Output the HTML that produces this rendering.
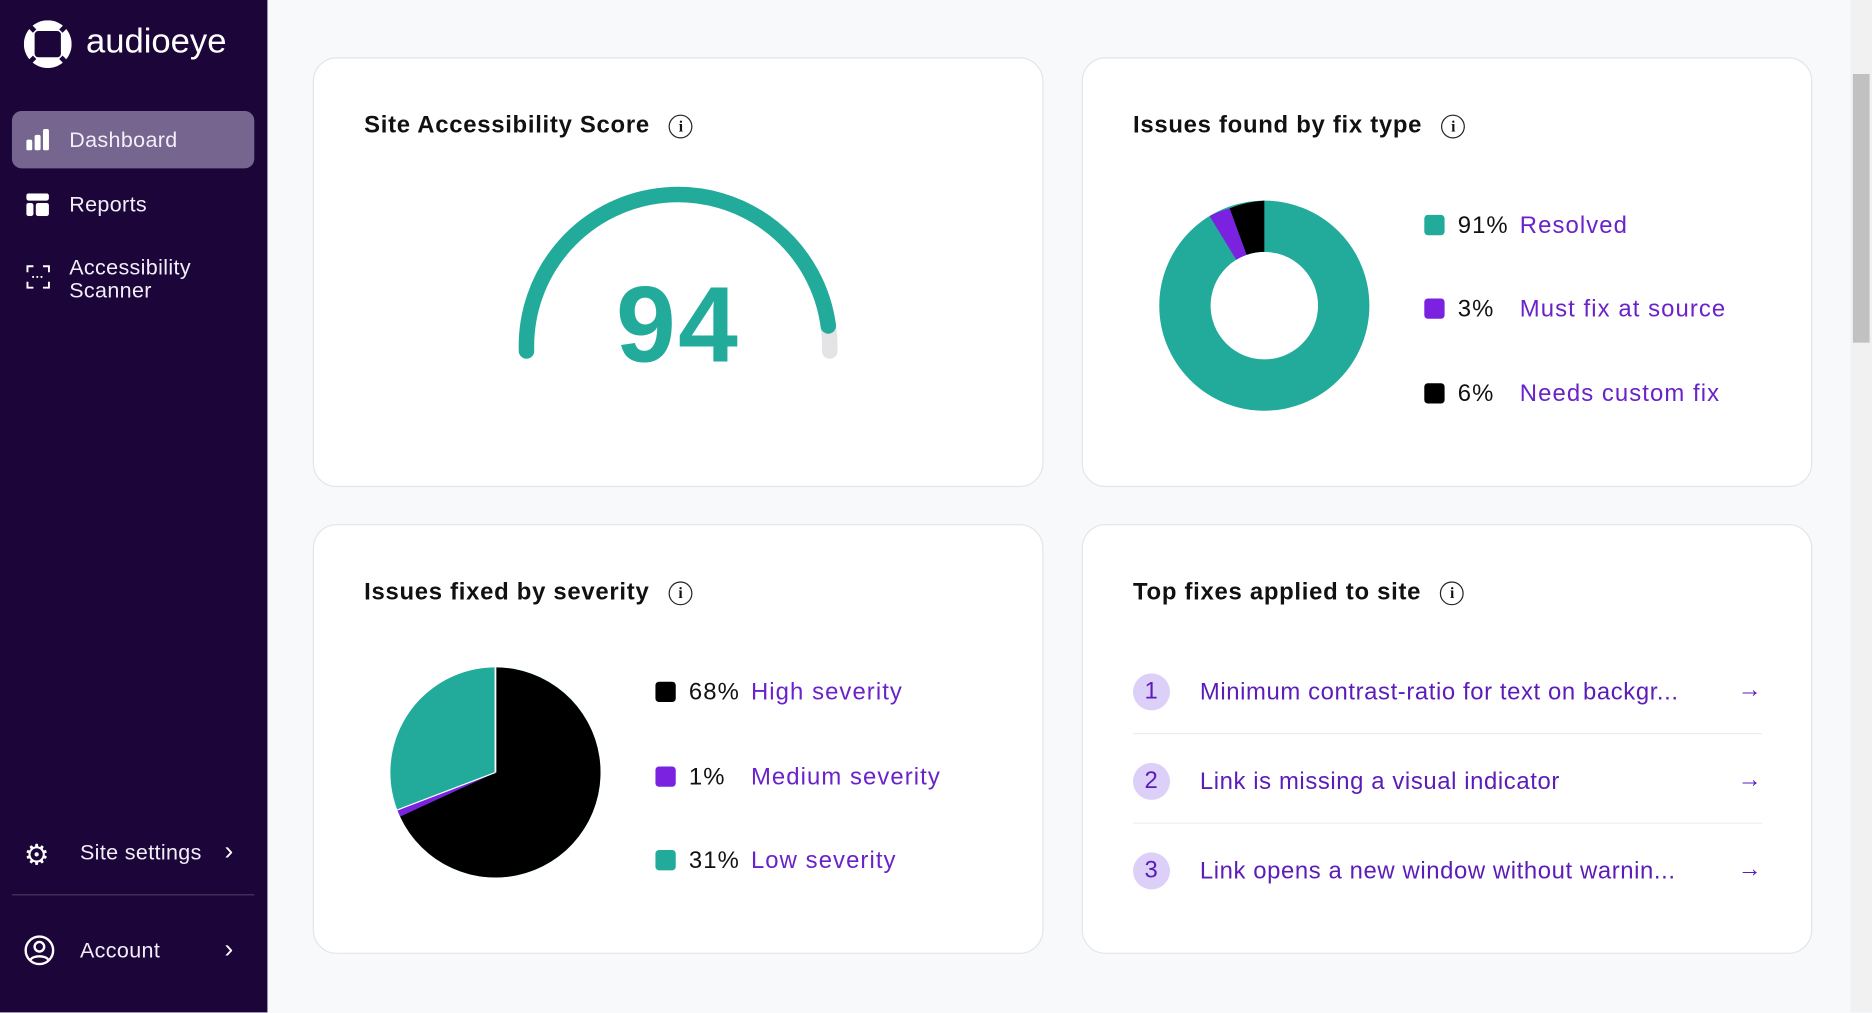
<!DOCTYPE html>
<html><head><meta charset="utf-8"><style>
html,body{margin:0;padding:0;width:1872px;height:1013px;overflow:hidden;background:#f8f9fb;font-family:"Liberation Sans",sans-serif}
#w{position:absolute;left:0;top:0;width:1568px;height:848px;transform:scale(1.19388);transform-origin:0 0;background:#f8f9fb}
.sb{position:absolute;left:0;top:0;width:224px;height:848px;background:#1c0538;color:#fff}
.it{position:absolute;left:58px;font-size:18px;color:#f3eefa;letter-spacing:0.3px}
.card{position:absolute;background:#fff;border:1px solid #e4e4ea;border-radius:20px;box-sizing:border-box}
.t{position:absolute;left:42px;top:45px;font-size:20px;font-weight:bold;color:#111;letter-spacing:0.6px}
.info{display:inline-block;width:18px;height:18px;border:1.6px solid #222;border-radius:50%;font-size:13px;text-align:center;line-height:18px;font-weight:bold;margin-left:16px;vertical-align:1px;font-family:"Liberation Serif",serif;letter-spacing:0}
.lg{position:absolute;font-size:20px;color:#111;letter-spacing:0.9px}
.sq{position:absolute;width:17px;height:17px;border-radius:3px}
.pl{color:#6a22c9}
.fx{position:absolute;left:42px;width:527px;height:40px;font-size:20px;color:#5b1cb8;letter-spacing:0.5px}
.num{position:absolute;left:0;top:5px;width:31px;height:31px;border-radius:50%;background:#dcd0f8;text-align:center;line-height:31px;color:#5b1cb8}
</style></head><body><div id="w">
<div class="sb">
 <svg style="position:absolute;left:20px;top:17px" width="40" height="40" viewBox="0 0 40 40"><circle cx="20" cy="20" r="20" fill="#fff"/><rect x="9" y="9" width="22" height="22" rx="3" fill="#1c0538"/><path d="M9 9 L0 0 M31 9 L40 0 M9 31 L0 40 M31 31 L40 40" stroke="#1c0538" stroke-width="4"/></svg>
 <div style="position:absolute;left:72px;top:19px;font-size:29px;color:#fff">audioeye</div>
 <div style="position:absolute;left:10px;top:93px;width:203px;height:48px;background:#76658e;border-radius:8px"></div>
 <svg style="position:absolute;left:22px;top:108px" width="20" height="18"><rect x="0" y="9" width="5" height="9" rx="1.5" fill="#fff"/><rect x="7" y="5" width="5" height="13" rx="1.5" fill="#fff"/><rect x="14" y="0" width="5" height="18" rx="1.5" fill="#fff"/></svg>
 <div class="it" style="top:107px">Dashboard</div>
 <svg style="position:absolute;left:22px;top:162px" width="19" height="19"><rect x="0" y="0" width="19" height="6" rx="2" fill="#fff"/><rect x="0" y="8" width="6" height="11" rx="2" fill="#fff"/><rect x="8" y="8" width="11" height="11" rx="2" fill="#fff"/></svg>
 <div class="it" style="top:161px">Reports</div>
 <svg style="position:absolute;left:22px;top:222px" width="20" height="20" fill="none" stroke="#fff" stroke-width="1.6"><path d="M1 6V1h5M14 1h5v5M19 14v5h-5M6 19H1v-5"/><path d="M5 10h10" stroke-dasharray="1.5 2"/></svg>
 <div class="it" style="top:215px;line-height:19px">Accessibility<br>Scanner</div>
 <div style="position:absolute;left:20px;top:702px;font-size:24px">⚙</div>
 <div class="it" style="left:67px;top:704px">Site settings</div>
 <div style="position:absolute;left:188px;top:700px;font-size:22px">›</div>
 <div style="position:absolute;left:10px;top:749px;width:203px;height:1px;background:#4a3a62"></div>
 <svg style="position:absolute;left:20px;top:783px" width="26" height="26" fill="none" stroke="#fff" stroke-width="2"><circle cx="13" cy="13" r="11.5"/><circle cx="13" cy="10" r="4"/><path d="M5.5 21c2-4 13-4 15 0"/></svg>
 <div class="it" style="left:67px;top:786px">Account</div>
 <div style="position:absolute;left:188px;top:782px;font-size:22px">›</div>
</div>
<div style="position:absolute;left:1550px;top:0;width:18px;height:848px;background:#f1f1f1"></div>
<div style="position:absolute;left:1552px;top:62px;width:14px;height:225px;background:#c1c1c1"></div>

<div class="card" style="left:262px;top:48px;width:612px;height:360px">
 <div class="t">Site Accessibility Score<span class="info">i</span></div>
 <svg style="position:absolute;left:0;top:0" width="612" height="360">
  <path d="M430.8 224 A127 127 0 0 1 432 245" fill="none" stroke="#e4e4e6" stroke-width="13" stroke-linecap="round"/>
  <path d="M178 245 A127 127 0 0 1 430.8 224" fill="none" stroke="#22ab9b" stroke-width="13" stroke-linecap="round"/>
  <text x="305" y="254" text-anchor="middle" font-size="90" font-weight="bold" fill="#22ab9b" font-family="Liberation Sans" letter-spacing="2">94</text>
 </svg>
</div>

<div class="card" style="left:906px;top:48px;width:612px;height:360px">
 <div class="t">Issues found by fix type<span class="info">i</span></div>
 <svg style="position:absolute;left:0;top:0" width="612" height="360">
  <g transform="translate(152,207)">
   <circle r="66.5" fill="none" stroke="#22ab9b" stroke-width="43"/>
   <path d="M-29.1 -81.5 A88 88 0 0 1 0 -88 L0 -45 A45 45 0 0 0 -14.9 -42.5Z" fill="#000"/>
   <path d="M-45.9 -75.1 A88 88 0 0 1 -29.1 -81.5 L-14.9 -42.5 A45 45 0 0 0 -23.5 -38.4Z" fill="#7a22e0"/>
  </g>
 </svg>
 <div class="sq" style="left:286px;top:131px;background:#22ab9b"></div><div class="lg" style="left:314px;top:129px">91%</div><div class="lg pl" style="left:366px;top:129px">Resolved</div>
 <div class="sq" style="left:286px;top:201px;background:#7a22e0"></div><div class="lg" style="left:314px;top:199px">3%</div><div class="lg pl" style="left:366px;top:199px">Must fix at source</div>
 <div class="sq" style="left:286px;top:272px;background:#000"></div><div class="lg" style="left:314px;top:270px">6%</div><div class="lg pl" style="left:366px;top:270px">Needs custom fix</div>
</div>

<div class="card" style="left:262px;top:439px;width:612px;height:360px">
 <div class="t">Issues fixed by severity<span class="info">i</span></div>
 <svg style="position:absolute;left:0;top:0" width="612" height="360">
  <g transform="translate(152,207)">
   <circle r="88" fill="#22ab9b"/>
   <path d="M0 0 L0 -88 A88 88 0 1 1 -79.9 36.9Z" fill="#000"/>
   <path d="M0 0 L-79.9 36.9 A88 88 0 0 1 -82.2 31.4Z" fill="#7a22e0"/>
   <path d="M0 0 L0 -88" stroke="#fff" stroke-width="1.5"/>
   <path d="M0 0 L-82.2 31.4" stroke="#fff" stroke-width="1"/>
  </g>
 </svg>
 <div class="sq" style="left:286px;top:131px;background:#000"></div><div class="lg" style="left:314px;top:129px">68%</div><div class="lg pl" style="left:366px;top:129px">High severity</div>
 <div class="sq" style="left:286px;top:202px;background:#7a22e0"></div><div class="lg" style="left:314px;top:200px">1%</div><div class="lg pl" style="left:366px;top:200px">Medium severity</div>
 <div class="sq" style="left:286px;top:272px;background:#22ab9b"></div><div class="lg" style="left:314px;top:270px">31%</div><div class="lg pl" style="left:366px;top:270px">Low severity</div>
</div>

<div class="card" style="left:906px;top:439px;width:612px;height:360px">
 <div class="t">Top fixes applied to site<span class="info">i</span></div>
 <div class="fx" style="top:119px"><div class="num">1</div><span style="position:absolute;left:56px;top:10px">Minimum contrast-ratio for text on backgr...</span><span style="position:absolute;right:0;top:8px">→</span></div>
 <div style="position:absolute;left:42px;top:174px;width:527px;height:1px;background:#eeeef2"></div>
 <div class="fx" style="top:194px"><div class="num">2</div><span style="position:absolute;left:56px;top:10px">Link is missing a visual indicator</span><span style="position:absolute;right:0;top:8px">→</span></div>
 <div style="position:absolute;left:42px;top:249px;width:527px;height:1px;background:#eeeef2"></div>
 <div class="fx" style="top:269px"><div class="num">3</div><span style="position:absolute;left:56px;top:10px">Link opens a new window without warnin...</span><span style="position:absolute;right:0;top:8px">→</span></div>
</div>
</div></body></html>
